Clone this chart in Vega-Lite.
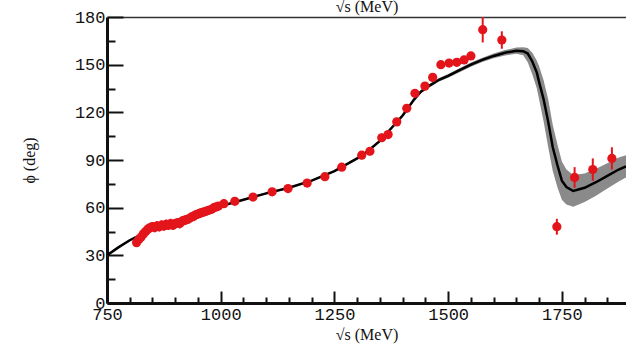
{
  "$schema": "https://vega.github.io/schema/vega-lite/v6.json",
  "width": 519,
  "height": 286,
  "autosize": {"type": "none"},
  "padding": {"left": 107, "top": 17, "right": 0, "bottom": 41},
  "background": "white",
  "config": {"view": {"stroke": null}, "axis": {"grid": false}},
  "datasets": {
    "model": [
      {"s": 750, "phi": 30, "lo": 29.4, "hi": 30.6},
      {"s": 775, "phi": 35, "lo": 34.4, "hi": 35.6},
      {"s": 800, "phi": 39.5, "lo": 38.9, "hi": 40.1},
      {"s": 825, "phi": 43, "lo": 42.4, "hi": 43.6},
      {"s": 850, "phi": 46.5, "lo": 45.9, "hi": 47.1},
      {"s": 900, "phi": 51.5, "lo": 50.9, "hi": 52.1},
      {"s": 950, "phi": 56.5, "lo": 55.9, "hi": 57.1},
      {"s": 1000, "phi": 61, "lo": 60.4, "hi": 61.6},
      {"s": 1050, "phi": 65, "lo": 64.4, "hi": 65.6},
      {"s": 1100, "phi": 69, "lo": 68.4, "hi": 69.6},
      {"s": 1150, "phi": 72.5, "lo": 71.9, "hi": 73.1},
      {"s": 1200, "phi": 77, "lo": 76.4, "hi": 77.6},
      {"s": 1250, "phi": 83, "lo": 82.4, "hi": 83.6},
      {"s": 1300, "phi": 91, "lo": 90.3, "hi": 91.7},
      {"s": 1325, "phi": 96, "lo": 95.3, "hi": 96.7},
      {"s": 1350, "phi": 102, "lo": 101.3, "hi": 102.7},
      {"s": 1375, "phi": 110, "lo": 109.3, "hi": 110.7},
      {"s": 1400, "phi": 118, "lo": 117.2, "hi": 118.8},
      {"s": 1425, "phi": 128, "lo": 127.2, "hi": 128.8},
      {"s": 1440, "phi": 133, "lo": 132, "hi": 134},
      {"s": 1460, "phi": 137, "lo": 136, "hi": 138},
      {"s": 1480, "phi": 140.5, "lo": 139.4, "hi": 141.6},
      {"s": 1500, "phi": 143, "lo": 141.8, "hi": 144.2},
      {"s": 1525, "phi": 146.5, "lo": 145.3, "hi": 147.7},
      {"s": 1550, "phi": 150, "lo": 148.7, "hi": 151.3},
      {"s": 1575, "phi": 153, "lo": 151.6, "hi": 154.4},
      {"s": 1600, "phi": 155.5, "lo": 154, "hi": 157},
      {"s": 1625, "phi": 157.5, "lo": 155.8, "hi": 159.2},
      {"s": 1650, "phi": 158.8, "lo": 156.8, "hi": 160.8},
      {"s": 1665, "phi": 158.5, "lo": 156, "hi": 161},
      {"s": 1675, "phi": 157, "lo": 151.5, "hi": 160.5},
      {"s": 1685, "phi": 152, "lo": 144, "hi": 157.5},
      {"s": 1695, "phi": 145, "lo": 135, "hi": 152.5},
      {"s": 1700, "phi": 139, "lo": 128, "hi": 149},
      {"s": 1710, "phi": 128, "lo": 114, "hi": 140},
      {"s": 1720, "phi": 114, "lo": 98, "hi": 128},
      {"s": 1730, "phi": 98, "lo": 83, "hi": 112},
      {"s": 1740, "phi": 87, "lo": 73, "hi": 100},
      {"s": 1750, "phi": 77, "lo": 65, "hi": 89},
      {"s": 1760, "phi": 73, "lo": 62, "hi": 84},
      {"s": 1775, "phi": 70.5, "lo": 60.5, "hi": 80.5},
      {"s": 1800, "phi": 72.5, "lo": 63.5, "hi": 81.5},
      {"s": 1825, "phi": 76, "lo": 67.5, "hi": 84.5},
      {"s": 1850, "phi": 80, "lo": 72, "hi": 88},
      {"s": 1875, "phi": 84, "lo": 76.5, "hi": 91.5},
      {"s": 1891, "phi": 86, "lo": 79, "hi": 93}
    ],
    "measured": [
      {"s": 815, "phi": 38, "err": 2.5},
      {"s": 820, "phi": 40, "err": 2.5},
      {"s": 825, "phi": 41.5, "err": 2.5},
      {"s": 830, "phi": 43.5, "err": 3},
      {"s": 835, "phi": 45, "err": 3},
      {"s": 840, "phi": 46.5, "err": 3},
      {"s": 845, "phi": 47.5, "err": 3},
      {"s": 850, "phi": 48, "err": 3},
      {"s": 855, "phi": 47.5, "err": 3},
      {"s": 860, "phi": 48.5, "err": 3},
      {"s": 865, "phi": 48, "err": 3},
      {"s": 870, "phi": 49, "err": 3},
      {"s": 875, "phi": 48.5, "err": 3},
      {"s": 880, "phi": 49.5, "err": 3},
      {"s": 885, "phi": 49, "err": 3},
      {"s": 890, "phi": 50, "err": 3},
      {"s": 895, "phi": 49, "err": 3},
      {"s": 900, "phi": 50, "err": 3},
      {"s": 905, "phi": 50.5, "err": 3},
      {"s": 910, "phi": 50, "err": 3},
      {"s": 915, "phi": 51.5, "err": 3},
      {"s": 920, "phi": 52, "err": 3},
      {"s": 925, "phi": 52.5, "err": 3},
      {"s": 930, "phi": 53, "err": 3},
      {"s": 935, "phi": 54, "err": 3},
      {"s": 940, "phi": 54.5, "err": 3},
      {"s": 945, "phi": 55.5, "err": 3},
      {"s": 950, "phi": 56, "err": 3},
      {"s": 955, "phi": 56.5, "err": 3},
      {"s": 960, "phi": 57, "err": 2.5},
      {"s": 965, "phi": 57.5, "err": 2.5},
      {"s": 970, "phi": 58, "err": 2.5},
      {"s": 975, "phi": 58.5, "err": 2.5},
      {"s": 980, "phi": 59, "err": 2.5},
      {"s": 985, "phi": 60, "err": 2.5},
      {"s": 990, "phi": 60.5, "err": 2.5},
      {"s": 995, "phi": 61, "err": 2.5},
      {"s": 1007, "phi": 62.5, "err": 2},
      {"s": 1031, "phi": 64, "err": 2},
      {"s": 1071, "phi": 66.7, "err": 2},
      {"s": 1113, "phi": 70, "err": 2},
      {"s": 1148, "phi": 72, "err": 2},
      {"s": 1190, "phi": 75.5, "err": 2},
      {"s": 1229, "phi": 79.5, "err": 2},
      {"s": 1266, "phi": 85.5, "err": 2},
      {"s": 1310, "phi": 93, "err": 2.5},
      {"s": 1328, "phi": 95.5, "err": 2.5},
      {"s": 1354, "phi": 104, "err": 2.5},
      {"s": 1368, "phi": 106, "err": 2.5},
      {"s": 1387, "phi": 114, "err": 2.5},
      {"s": 1409, "phi": 122.5, "err": 2.5},
      {"s": 1427, "phi": 132, "err": 2.5},
      {"s": 1449, "phi": 136.5, "err": 2.5},
      {"s": 1466, "phi": 142, "err": 2.5},
      {"s": 1484, "phi": 150, "err": 2.5},
      {"s": 1502, "phi": 151, "err": 2.5},
      {"s": 1519, "phi": 151.5, "err": 2.5},
      {"s": 1535, "phi": 153, "err": 2.5},
      {"s": 1550, "phi": 155.5, "err": 2.5},
      {"s": 1576, "phi": 172, "err": 8},
      {"s": 1618, "phi": 165.5, "err": 5.5},
      {"s": 1739, "phi": 48, "err": 5},
      {"s": 1778, "phi": 79, "err": 6.5},
      {"s": 1818, "phi": 84, "err": 7},
      {"s": 1860, "phi": 91, "err": 7}
    ]
  },
  "layer": [
    {
      "data": {"name": "model"},
      "mark": {"type": "area", "color": "#8a8a8a", "clip": true},
      "encoding": {
        "x": {
          "field": "s", "type": "quantitative",
          "scale": {"domain": [750, 1891], "nice": false, "zero": false},
          "axis": {
            "orient": "top", "labels": false, "ticks": false,
            "domainColor": "#333333", "domainWidth": 1.5,
            "title": "√s (MeV)", "titleFont": "Liberation Serif", "titleFontSize": 16,
            "titleFontWeight": "normal", "titleColor": "#111111", "titlePadding": 3
          }
        },
        "y": {
          "field": "lo", "type": "quantitative",
          "scale": {"domain": [0, 180], "nice": false, "zero": false},
          "axis": {
            "orient": "left",
            "values": [15, 45, 75, 105, 135, 165],
            "labels": false, "domain": false, "title": null,
            "tickSize": -8, "tickWidth": 2, "tickColor": "#111111"
          }
        },
        "y2": {"field": "hi"}
      }
    },
    {
      "data": {"name": "model"},
      "mark": {"type": "line", "color": "#000000", "strokeWidth": 2.5, "clip": true},
      "encoding": {
        "x": {
          "field": "s", "type": "quantitative",
          "axis": {
            "orient": "bottom",
            "values": [750, 1000, 1250, 1500, 1750], "format": "d",
            "tickSize": -12, "tickWidth": 2, "tickColor": "#111111",
            "domainColor": "#111111", "domainWidth": 3,
            "labelFont": "Liberation Mono", "labelFontSize": 17, "labelColor": "#111111",
            "labelPadding": 15, "labelFlush": false, "labelOverlap": false,
            "title": "√s (MeV)", "titleFont": "Liberation Serif", "titleFontSize": 16,
            "titleFontWeight": "normal", "titleColor": "#111111", "titlePadding": 4
          }
        },
        "y": {
          "field": "phi", "type": "quantitative",
          "axis": {
            "orient": "left",
            "values": [0, 30, 60, 90, 120, 150, 180], "format": "d",
            "tickSize": -16, "tickWidth": 2, "tickColor": "#111111",
            "domainColor": "#111111", "domainWidth": 3,
            "labelFont": "Liberation Mono", "labelFontSize": 17, "labelColor": "#111111",
            "labelPadding": 18, "labelOverlap": false,
            "title": "ϕ (deg)", "titleFont": "Liberation Serif", "titleFontSize": 16,
            "titleFontWeight": "normal", "titleColor": "#111111", "titlePadding": 37
          }
        }
      }
    },
    {
      "data": {"name": "measured"},
      "mark": {"type": "errorbar", "color": "#e3151b", "thickness": 2},
      "encoding": {
        "x": {
          "field": "s", "type": "quantitative",
          "axis": {
            "orient": "bottom",
            "values": [800, 850, 900, 950, 1050, 1100, 1150, 1200, 1300, 1350, 1400, 1450, 1550, 1600, 1650, 1700, 1800, 1850],
            "labels": false, "domain": false, "title": null,
            "tickSize": -6, "tickWidth": 2, "tickColor": "#111111"
          }
        },
        "y": {"field": "phi", "type": "quantitative", "axis": null},
        "yError": {"field": "err"}
      }
    },
    {
      "data": {"name": "measured"},
      "mark": {"type": "circle", "color": "#e3151b", "size": 85, "opacity": 1},
      "encoding": {
        "x": {"field": "s", "type": "quantitative", "axis": null},
        "y": {"field": "phi", "type": "quantitative", "axis": null}
      }
    }
  ],
  "resolve": {"axis": {"x": "independent", "y": "independent"}}
}
